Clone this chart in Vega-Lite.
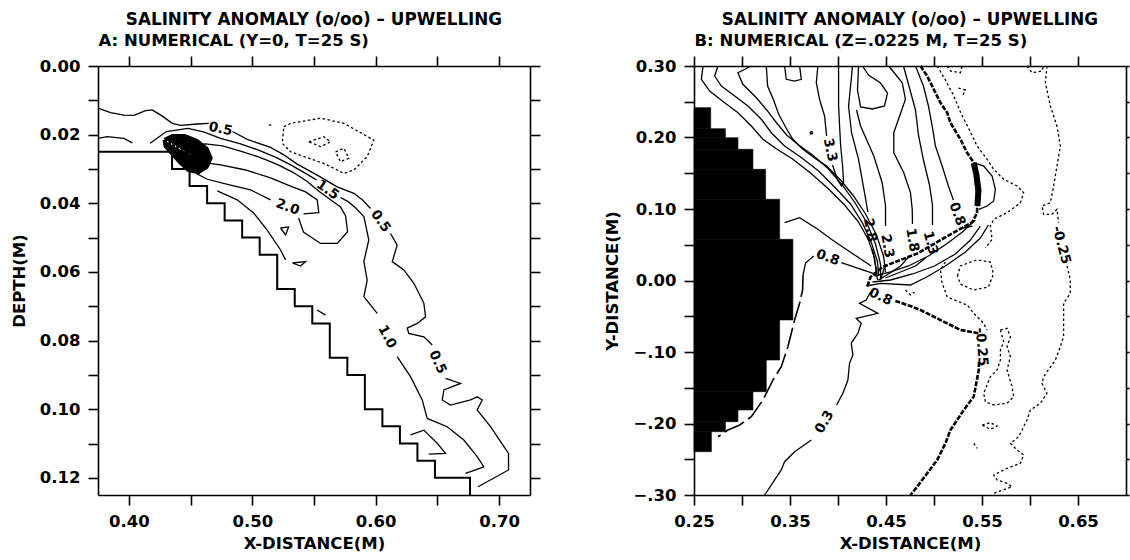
{
"$schema": "https://vega.github.io/schema/vega-lite/v6.json",
"background": "white",
"padding": {"left": 11, "top": 12, "right": 0, "bottom": 0},
"config": {
"font": "DejaVu Sans",
"view": {"stroke": null},
"axis": {"domainColor": "black", "domainWidth": 1.6, "tickColor": "black", "tickWidth": 1.6, "tickSize": 10, "labelFont": "DejaVu Sans", "labelFontWeight": "bold", "labelFontSize": 16.5, "labelColor": "black", "titleFont": "DejaVu Sans", "titleFontWeight": "bold", "titleFontSize": 16.5, "titleColor": "black", "grid": false, "labelPadding": 8, "labelOverlap": false, "labelFlush": false},
"title": {"font": "DejaVu Sans", "fontWeight": "bold", "fontSize": 16.8, "color": "black", "anchor": "middle", "offset": 3}
},
"datasets": {
"stepA": [{"x":0.375,"y":0.025},{"x":0.435,"y":0.025},{"x":0.435,"y":0.030},{"x":0.4492,"y":0.030},{"x":0.4492,"y":0.035},{"x":0.4634,"y":0.035},{"x":0.4634,"y":0.040},{"x":0.4776,"y":0.040},{"x":0.4776,"y":0.045},{"x":0.4918,"y":0.045},{"x":0.4918,"y":0.050},{"x":0.506,"y":0.050},{"x":0.506,"y":0.055},{"x":0.5202,"y":0.055},{"x":0.5202,"y":0.065},{"x":0.5344,"y":0.065},{"x":0.5344,"y":0.070},{"x":0.5486,"y":0.070},{"x":0.5486,"y":0.075},{"x":0.5628,"y":0.075},{"x":0.5628,"y":0.085},{"x":0.577,"y":0.085},{"x":0.577,"y":0.090},{"x":0.5912,"y":0.090},{"x":0.5912,"y":0.100},{"x":0.6054,"y":0.100},{"x":0.6054,"y":0.105},{"x":0.6196,"y":0.105},{"x":0.6196,"y":0.110},{"x":0.6338,"y":0.110},{"x":0.6338,"y":0.115},{"x":0.648,"y":0.115},{"x":0.648,"y":0.120},{"x":0.6764,"y":0.120},{"x":0.6764,"y":0.125}],
"solidA": [
{"s":"L0","x":0.375,"y":0.0211},{"s":"L0","x":0.3825,"y":0.0206},{"s":"L0","x":0.3960,"y":0.0211},{"s":"L0","x":0.4028,"y":0.0224},
{"s":"L1a","x":0.375,"y":0.0123},{"s":"L1a","x":0.3852,"y":0.0136},{"s":"L1a","x":0.3960,"y":0.0143},{"s":"L1a","x":0.4041,"y":0.0144},{"s":"L1a","x":0.4136,"y":0.0130},{"s":"L1a","x":0.4190,"y":0.0128},{"s":"L1a","x":0.4271,"y":0.0146},{"s":"L1a","x":0.4352,"y":0.0167},{"s":"L1a","x":0.4419,"y":0.0173},{"s":"L1a","x":0.4554,"y":0.0169},{"s":"L1a","x":0.4648,"y":0.0167},
{"s":"L1b","x":0.4840,"y":0.0191},{"s":"L1b","x":0.4959,"y":0.0214},{"s":"L1b","x":0.5148,"y":0.0237},{"s":"L1b","x":0.5256,"y":0.0259},{"s":"L1b","x":0.5364,"y":0.0286},{"s":"L1b","x":0.5526,"y":0.0318},{"s":"L1b","x":0.5688,"y":0.0352},{"s":"L1b","x":0.5823,"y":0.0371},{"s":"L1b","x":0.5891,"y":0.0390},{"s":"L1b","x":0.5958,"y":0.0415},
{"s":"L1c","x":0.6120,"y":0.0488},{"s":"L1c","x":0.6174,"y":0.0522},{"s":"L1c","x":0.6134,"y":0.0570},{"s":"L1c","x":0.6228,"y":0.0594},{"s":"L1c","x":0.6309,"y":0.0633},{"s":"L1c","x":0.6390,"y":0.0691},{"s":"L1c","x":0.6404,"y":0.0731},{"s":"L1c","x":0.6336,"y":0.0750},{"s":"L1c","x":0.6255,"y":0.0764},{"s":"L1c","x":0.6268,"y":0.0779},{"s":"L1c","x":0.6390,"y":0.0789},{"s":"L1c","x":0.6458,"y":0.0813},
{"s":"L1d","x":0.6566,"y":0.0910},{"s":"L1d","x":0.6687,"y":0.0925},{"s":"L1d","x":0.6552,"y":0.0944},{"s":"L1d","x":0.6539,"y":0.0973},{"s":"L1d","x":0.6606,"y":0.0988},{"s":"L1d","x":0.6768,"y":0.0973},{"s":"L1d","x":0.6822,"y":0.0964},{"s":"L1d","x":0.6863,"y":0.0973},{"s":"L1d","x":0.6822,"y":0.1002},{"s":"L1d","x":0.6930,"y":0.1051},{"s":"L1d","x":0.7076,"y":0.1129},{"s":"L1d","x":0.7076,"y":0.1177},{"s":"L1d","x":0.6829,"y":0.1226},
{"s":"L2a","x":0.4172,"y":0.0225},{"s":"L2a","x":0.4304,"y":0.0191},{"s":"L2a","x":0.4479,"y":0.0182},{"s":"L2a","x":0.4605,"y":0.0192},{"s":"L2a","x":0.4743,"y":0.0211},{"s":"L2a","x":0.4905,"y":0.0227},{"s":"L2a","x":0.5051,"y":0.0245},{"s":"L2a","x":0.5197,"y":0.0267},{"s":"L2a","x":0.5326,"y":0.0291},{"s":"L2a","x":0.5456,"y":0.0318},{"s":"L2a","x":0.5521,"y":0.0332},
{"s":"L2b","x":0.5715,"y":0.0383},{"s":"L2b","x":0.5780,"y":0.0396},{"s":"L2b","x":0.5837,"y":0.0414},{"s":"L2b","x":0.5904,"y":0.0439},{"s":"L2b","x":0.5944,"y":0.0507},{"s":"L2b","x":0.5904,"y":0.0570},{"s":"L2b","x":0.5931,"y":0.0624},{"s":"L2b","x":0.5904,"y":0.0672},{"s":"L2b","x":0.6012,"y":0.0721},
{"s":"L2c","x":0.6174,"y":0.0847},{"s":"L2c","x":0.6282,"y":0.0905},{"s":"L2c","x":0.6377,"y":0.0973},{"s":"L2c","x":0.6417,"y":0.1027},{"s":"L2c","x":0.6579,"y":0.1051},{"s":"L2c","x":0.6714,"y":0.1090},{"s":"L2c","x":0.6822,"y":0.1138},{"s":"L2c","x":0.6876,"y":0.1168},{"s":"L2c","x":0.6728,"y":0.1187},
{"s":"L3","x":0.4460,"y":0.0233},{"s":"L3","x":0.4622,"y":0.0227},{"s":"L3","x":0.4759,"y":0.0233},{"s":"L3","x":0.4905,"y":0.0248},{"s":"L3","x":0.5051,"y":0.0265},{"s":"L3","x":0.5197,"y":0.0286},{"s":"L3","x":0.5326,"y":0.0309},{"s":"L3","x":0.5440,"y":0.0335},{"s":"L3","x":0.5537,"y":0.0364},{"s":"L3","x":0.5634,"y":0.0390},{"s":"L3","x":0.5715,"y":0.0411},{"s":"L3","x":0.5756,"y":0.0437},{"s":"L3","x":0.5772,"y":0.0483},{"s":"L3","x":0.5688,"y":0.0517},{"s":"L3","x":0.5553,"y":0.0517},{"s":"L3","x":0.5415,"y":0.0484},{"s":"L3","x":0.5375,"y":0.0443},
{"s":"L4a","x":0.4541,"y":0.0312},{"s":"L4a","x":0.4636,"y":0.0330},{"s":"L4a","x":0.4824,"y":0.0347},{"s":"L4a","x":0.4986,"y":0.0361},{"s":"L4a","x":0.5148,"y":0.0390},
{"s":"L4b","x":0.5415,"y":0.0431},{"s":"L4b","x":0.5539,"y":0.0427},{"s":"L4b","x":0.5526,"y":0.0390},{"s":"L4b","x":0.5432,"y":0.0367},{"s":"L4b","x":0.5310,"y":0.0350},{"s":"L4b","x":0.5148,"y":0.0326},{"s":"L4b","x":0.4946,"y":0.0303},{"s":"L4b","x":0.4743,"y":0.0288},{"s":"L4b","x":0.4581,"y":0.0280},
{"s":"Lb","x":0.4716,"y":0.0364},{"s":"Lb","x":0.4878,"y":0.0390},{"s":"Lb","x":0.5013,"y":0.0429},{"s":"Lb","x":0.5121,"y":0.0478},{"s":"Lb","x":0.5229,"y":0.0536},{"s":"Lb","x":0.5270,"y":0.0565},
{"s":"e","x":0.5229,"y":0.0472},{"s":"e","x":0.5294,"y":0.0469},{"s":"e","x":0.5270,"y":0.0492},{"s":"e","x":0.5229,"y":0.0472},
{"s":"f","x":0.5325,"y":0.0574},{"s":"f","x":0.5432,"y":0.0570},{"s":"f","x":0.5391,"y":0.0583},{"s":"f","x":0.5325,"y":0.0574},
{"s":"i","x":0.6282,"y":0.1075},{"s":"i","x":0.6390,"y":0.1061},{"s":"i","x":0.6498,"y":0.1099},{"s":"i","x":0.6566,"y":0.1129},{"s":"i","x":0.6430,"y":0.1131},
{"s":"g","x":0.5526,"y":0.0711},{"s":"g","x":0.5593,"y":0.0726}
],
"blobA": [
{"s":"b1","x":0.4290,"y":0.0215},{"s":"b1","x":0.4354,"y":0.0204},{"s":"b1","x":0.4452,"y":0.0204},{"s":"b1","x":0.4549,"y":0.0218},{"s":"b1","x":0.4630,"y":0.0241},{"s":"b1","x":0.4662,"y":0.0268},{"s":"b1","x":0.4630,"y":0.0294},{"s":"b1","x":0.4565,"y":0.0309},{"s":"b1","x":0.4484,"y":0.0303},{"s":"b1","x":0.4419,"y":0.0282},{"s":"b1","x":0.4354,"y":0.0256},{"s":"b1","x":0.4298,"y":0.0233},{"s":"b1","x":0.4290,"y":0.0215},
{"s":"b2","x":0.4323,"y":0.0222},{"s":"b2","x":0.4376,"y":0.0212},{"s":"b2","x":0.4457,"y":0.0212},{"s":"b2","x":0.4538,"y":0.0225},{"s":"b2","x":0.4605,"y":0.0244},{"s":"b2","x":0.4632,"y":0.0266},{"s":"b2","x":0.4605,"y":0.0288},{"s":"b2","x":0.4551,"y":0.0300},{"s":"b2","x":0.4484,"y":0.0295},{"s":"b2","x":0.4430,"y":0.0278},{"s":"b2","x":0.4376,"y":0.0256},{"s":"b2","x":0.4329,"y":0.0237},{"s":"b2","x":0.4323,"y":0.0222},
{"s":"b3","x":0.4354,"y":0.0229},{"s":"b3","x":0.4397,"y":0.0221},{"s":"b3","x":0.4462,"y":0.0221},{"s":"b3","x":0.4527,"y":0.0231},{"s":"b3","x":0.4582,"y":0.0246},{"s":"b3","x":0.4603,"y":0.0264},{"s":"b3","x":0.4582,"y":0.0281},{"s":"b3","x":0.4538,"y":0.0291},{"s":"b3","x":0.4484,"y":0.0287},{"s":"b3","x":0.4441,"y":0.0274},{"s":"b3","x":0.4397,"y":0.0256},{"s":"b3","x":0.4359,"y":0.0240},{"s":"b3","x":0.4354,"y":0.0229},
{"s":"b4","x":0.4387,"y":0.0236},{"s":"b4","x":0.4419,"y":0.0230},{"s":"b4","x":0.4468,"y":0.0230},{"s":"b4","x":0.4516,"y":0.0237},{"s":"b4","x":0.4557,"y":0.0249},{"s":"b4","x":0.4573,"y":0.0262},{"s":"b4","x":0.4557,"y":0.0275},{"s":"b4","x":0.4525,"y":0.0282},{"s":"b4","x":0.4484,"y":0.0279},{"s":"b4","x":0.4452,"y":0.0269},{"s":"b4","x":0.4419,"y":0.0256},{"s":"b4","x":0.4391,"y":0.0244},{"s":"b4","x":0.4387,"y":0.0236},
{"s":"b5","x":0.4420,"y":0.0243},{"s":"b5","x":0.4441,"y":0.0239},{"s":"b5","x":0.4473,"y":0.0239},{"s":"b5","x":0.4505,"y":0.0244},{"s":"b5","x":0.4532,"y":0.0251},{"s":"b5","x":0.4543,"y":0.0260},{"s":"b5","x":0.4532,"y":0.0269},{"s":"b5","x":0.4511,"y":0.0273},{"s":"b5","x":0.4484,"y":0.0271},{"s":"b5","x":0.4463,"y":0.0265},{"s":"b5","x":0.4441,"y":0.0256},{"s":"b5","x":0.4423,"y":0.0248},{"s":"b5","x":0.4420,"y":0.0243},
{"s":"b6","x":0.4451,"y":0.0249},{"s":"b6","x":0.4462,"y":0.0247},{"s":"b6","x":0.4479,"y":0.0247},{"s":"b6","x":0.4495,"y":0.0250},{"s":"b6","x":0.4509,"y":0.0254},{"s":"b6","x":0.4514,"y":0.0258},{"s":"b6","x":0.4509,"y":0.0262},{"s":"b6","x":0.4498,"y":0.0265},{"s":"b6","x":0.4484,"y":0.0264},{"s":"b6","x":0.4473,"y":0.0260},{"s":"b6","x":0.4462,"y":0.0256},{"s":"b6","x":0.4452,"y":0.0252},{"s":"b6","x":0.4451,"y":0.0249}
],
"dotA": [
{"s":"D1","x":0.5256,"y":0.0177},{"s":"D1","x":0.5310,"y":0.0167},{"s":"D1","x":0.5553,"y":0.0152},{"s":"D1","x":0.5742,"y":0.0167},{"s":"D1","x":0.5985,"y":0.0216},{"s":"D1","x":0.5931,"y":0.0264},{"s":"D1","x":0.5823,"y":0.0303},{"s":"D1","x":0.5742,"y":0.0313},{"s":"D1","x":0.5688,"y":0.0303},{"s":"D1","x":0.5580,"y":0.0284},{"s":"D1","x":0.5310,"y":0.0250},{"s":"D1","x":0.5243,"y":0.0225},{"s":"D1","x":0.5256,"y":0.0177},
{"s":"D2","x":0.5458,"y":0.0221},{"s":"D2","x":0.5580,"y":0.0206},{"s":"D2","x":0.5634,"y":0.0221},{"s":"D2","x":0.5553,"y":0.0235},{"s":"D2","x":0.5458,"y":0.0221},
{"s":"D3","x":0.5675,"y":0.0250},{"s":"D3","x":0.5742,"y":0.0240},{"s":"D3","x":0.5782,"y":0.0269},{"s":"D3","x":0.5715,"y":0.0279},{"s":"D3","x":0.5675,"y":0.0250},
{"s":"D4","x":0.5134,"y":0.0172},{"s":"D4","x":0.5170,"y":0.0172}
],
"labA": [
{"x":0.4743,"y":0.0184,"t":"0.5","a":12},
{"x":0.6039,"y":0.0452,"t":"0.5","a":55},
{"x":0.6501,"y":0.0863,"t":"0.5","a":65},
{"x":0.5610,"y":0.0361,"t":"1.5","a":35},
{"x":0.5286,"y":0.0411,"t":"2.0","a":20},
{"x":0.6093,"y":0.0789,"t":"1.0","a":62}
],
"rectB": [{"xa":0.25,"xb":0.2674,"ya":0.2123,"yb":0.2417},{"xa":0.25,"xb":0.2827,"ya":0.1997,"yb":0.2123},{"xa":0.25,"xb":0.2958,"ya":0.1835,"yb":0.1997},{"xa":0.25,"xb":0.3114,"ya":0.1555,"yb":0.1835},{"xa":0.25,"xb":0.3246,"ya":0.1136,"yb":0.1555},{"xa":0.25,"xb":0.3392,"ya":0.0576,"yb":0.1136},{"xa":0.25,"xb":0.353,"ya":-0.0552,"yb":0.0576},{"xa":0.25,"xb":0.3392,"ya":-0.1112,"yb":-0.0552},{"xa":0.25,"xb":0.3253,"ya":-0.1555,"yb":-0.1112},{"xa":0.25,"xb":0.3114,"ya":-0.1811,"yb":-0.1555},{"xa":0.25,"xb":0.2958,"ya":-0.1975,"yb":-0.1811},{"xa":0.25,"xb":0.2827,"ya":-0.2115,"yb":-0.1975},{"xa":0.25,"xb":0.2681,"ya":-0.2394,"yb":-0.2115}],
"solidB": [
{"s":"F1","x":0.2594,"y":0.300},{"s":"F1","x":0.2577,"y":0.2814},{"s":"F1","x":0.2663,"y":0.2650},{"s":"F1","x":0.2819,"y":0.2487},{"s":"F1","x":0.2958,"y":0.2347},{"s":"F1","x":0.3097,"y":0.2161},{"s":"F1","x":0.3218,"y":0.1975},{"s":"F1","x":0.3361,"y":0.1839},{"s":"F1","x":0.3527,"y":0.1699},{"s":"F1","x":0.3714,"y":0.1504},{"s":"F1","x":0.3902,"y":0.1280},{"s":"F1","x":0.4068,"y":0.1056},{"s":"F1","x":0.4214,"y":0.0818},{"s":"F1","x":0.4318,"y":0.0566},{"s":"F1","x":0.4380,"y":0.0315},{"s":"F1","x":0.4401,"y":0.0119},
{"s":"F2","x":0.2750,"y":0.300},{"s":"F2","x":0.2715,"y":0.2860},{"s":"F2","x":0.2785,"y":0.2720},{"s":"F2","x":0.2924,"y":0.2580},{"s":"F2","x":0.3062,"y":0.2441},{"s":"F2","x":0.3201,"y":0.2255},{"s":"F2","x":0.3305,"y":0.2067},{"s":"F2","x":0.3444,"y":0.1881},{"s":"F2","x":0.3610,"y":0.1727},{"s":"F2","x":0.3798,"y":0.1531},{"s":"F2","x":0.3964,"y":0.1308},{"s":"F2","x":0.4131,"y":0.1070},{"s":"F2","x":0.4255,"y":0.0804},{"s":"F2","x":0.4349,"y":0.0524},{"s":"F2","x":0.4412,"y":0.0259},{"s":"F2","x":0.4422,"y":0.0063},
{"s":"F3","x":0.3097,"y":0.300},{"s":"F3","x":0.2958,"y":0.2906},{"s":"F3","x":0.3007,"y":0.2748},{"s":"F3","x":0.3142,"y":0.2566},{"s":"F3","x":0.3257,"y":0.2385},{"s":"F3","x":0.3361,"y":0.2203},{"s":"F3","x":0.3465,"y":0.2035},{"s":"F3","x":0.3590,"y":0.1895},{"s":"F3","x":0.3735,"y":0.1755},{"s":"F3","x":0.3891,"y":0.1573},{"s":"F3","x":0.4037,"y":0.1350},{"s":"F3","x":0.4172,"y":0.1098},{"s":"F3","x":0.4297,"y":0.0818},{"s":"F3","x":0.4391,"y":0.0510},{"s":"F3","x":0.4443,"y":0.0231},{"s":"F3","x":0.4443,"y":0.0035},
{"s":"F4","x":0.3253,"y":0.300},{"s":"F4","x":0.3267,"y":0.2720},{"s":"F4","x":0.3329,"y":0.2524},{"s":"F4","x":0.3381,"y":0.2329},{"s":"F4","x":0.3454,"y":0.2147},{"s":"F4","x":0.3527,"y":0.1979},{"s":"F4","x":0.3631,"y":0.1839},{"s":"F4","x":0.3756,"y":0.1713},{"s":"F4","x":0.3881,"y":0.1601},{"s":"F4","x":0.4027,"y":0.1406},{"s":"F4","x":0.4162,"y":0.1182},{"s":"F4","x":0.4287,"y":0.0930},{"s":"F4","x":0.4401,"y":0.0636},{"s":"F4","x":0.4474,"y":0.0343},{"s":"F4","x":0.4495,"y":0.0119},
{"s":"LP","x":0.3444,"y":0.300},{"s":"LP","x":0.3461,"y":0.2814},{"s":"LP","x":0.3548,"y":0.2790},{"s":"LP","x":0.3618,"y":0.2814},{"s":"LP","x":0.3600,"y":0.300},
{"s":"T33a","x":0.3790,"y":0.300},{"s":"T33a","x":0.3774,"y":0.2766},{"s":"T33a","x":0.3808,"y":0.2534},{"s":"T33a","x":0.3860,"y":0.2301},{"s":"T33a","x":0.3881,"y":0.2021},
{"s":"T33b","x":0.3943,"y":0.1615},{"s":"T33b","x":0.3995,"y":0.1406},{"s":"T33b","x":0.4037,"y":0.1322},{"s":"T33b","x":0.4058,"y":0.1378},{"s":"T33b","x":0.4047,"y":0.1615},{"s":"T33b","x":0.4027,"y":0.1895},{"s":"T33b","x":0.4016,"y":0.2175},{"s":"T33b","x":0.4006,"y":0.2455},{"s":"T33b","x":0.4006,"y":0.2720},{"s":"T33b","x":0.4006,"y":0.300},
{"s":"DOT","x":0.3709,"y":0.2077},{"s":"DOT","x":0.3730,"y":0.2084},{"s":"DOT","x":0.3735,"y":0.2056},{"s":"DOT","x":0.3714,"y":0.2049},{"s":"DOT","x":0.3709,"y":0.2077},
{"s":"H","x":0.4214,"y":0.300},{"s":"H","x":0.4203,"y":0.2664},{"s":"H","x":0.4235,"y":0.2427},{"s":"H","x":0.4360,"y":0.2399},{"s":"H","x":0.4484,"y":0.2441},{"s":"H","x":0.4516,"y":0.2622},{"s":"H","x":0.4443,"y":0.2762},{"s":"H","x":0.4318,"y":0.2874},{"s":"H","x":0.4255,"y":0.300},
{"s":"L28a","x":0.4151,"y":0.300},{"s":"L28a","x":0.4131,"y":0.2720},{"s":"L28a","x":0.4110,"y":0.2441},{"s":"L28a","x":0.4141,"y":0.2067},{"s":"L28a","x":0.4214,"y":0.1695},{"s":"L28a","x":0.4276,"y":0.1228},{"s":"L28a","x":0.4311,"y":0.0958},
{"s":"L28b","x":0.4360,"y":0.0440},{"s":"L28b","x":0.4391,"y":0.0203},{"s":"L28b","x":0.4412,"y":0.0007},
{"s":"L23a","x":0.4193,"y":0.2385},{"s":"L23a","x":0.4235,"y":0.2161},{"s":"L23a","x":0.4373,"y":0.1741},{"s":"L23a","x":0.4460,"y":0.1368},{"s":"L23a","x":0.4495,"y":0.1042},{"s":"L23a","x":0.4495,"y":0.0762},
{"s":"L23b","x":0.4495,"y":0.0231},{"s":"L23b","x":0.4443,"y":0.0007},
{"s":"L18a","x":0.4529,"y":0.300},{"s":"L18a","x":0.4669,"y":0.2766},{"s":"L18a","x":0.4703,"y":0.2534},{"s":"L18a","x":0.4581,"y":0.2067},{"s":"L18a","x":0.4581,"y":0.1787},{"s":"L18a","x":0.4685,"y":0.1508},{"s":"L18a","x":0.4755,"y":0.1228},{"s":"L18a","x":0.4773,"y":0.0996},{"s":"L18a","x":0.4776,"y":0.0790},
{"s":"L18b","x":0.4745,"y":0.0343},{"s":"L18b","x":0.4651,"y":0.0203},{"s":"L18b","x":0.4526,"y":0.0091},{"s":"L18b","x":0.4422,"y":0.0007},
{"s":"L13a","x":0.4682,"y":0.300},{"s":"L13a","x":0.4745,"y":0.2692},{"s":"L13a","x":0.4807,"y":0.2385},{"s":"L13a","x":0.4838,"y":0.2035},{"s":"L13a","x":0.4890,"y":0.1685},{"s":"L13a","x":0.4953,"y":0.1336},{"s":"L13a","x":0.4984,"y":0.1056},{"s":"L13a","x":0.4984,"y":0.0776},
{"s":"L13b","x":0.4911,"y":0.0315},{"s":"L13b","x":0.4807,"y":0.0203},{"s":"L13b","x":0.4651,"y":0.0119},{"s":"L13b","x":0.4495,"y":0.0035},
{"s":"L08Ra","x":0.4807,"y":0.300},{"s":"L08Ra","x":0.4890,"y":0.2720},{"s":"L08Ra","x":0.4942,"y":0.2441},{"s":"L08Ra","x":0.4981,"y":0.2161},{"s":"L08Ra","x":0.5015,"y":0.1881},{"s":"L08Ra","x":0.5085,"y":0.1601},{"s":"L08Ra","x":0.5150,"y":0.1322},{"s":"L08Ra","x":0.5202,"y":0.1126},
{"s":"L08Rb","x":0.5296,"y":0.0734},{"s":"L08Rb","x":0.5400,"y":0.0762},
{"s":"SL","x":0.5414,"y":0.1648},{"s":"SL","x":0.5518,"y":0.1601},{"s":"SL","x":0.5605,"y":0.1462},{"s":"SL","x":0.5639,"y":0.1276},{"s":"SL","x":0.5622,"y":0.1112},{"s":"SL","x":0.5553,"y":0.1042},{"s":"SL","x":0.5466,"y":0.0996},
{"s":"R1","x":0.4380,"y":0.0063},{"s":"R1","x":0.4547,"y":0.0119},{"s":"R1","x":0.4734,"y":0.0203},{"s":"R1","x":0.4942,"y":0.0343},{"s":"R1","x":0.5130,"y":0.0510},{"s":"R1","x":0.5296,"y":0.0678},{"s":"R1","x":0.5431,"y":0.0846},
{"s":"R2","x":0.4360,"y":-0.0021},{"s":"R2","x":0.4547,"y":0.0007},{"s":"R2","x":0.4776,"y":0.0091},{"s":"R2","x":0.5005,"y":0.0203},{"s":"R2","x":0.5223,"y":0.0371},{"s":"R2","x":0.5379,"y":0.0566},{"s":"R2","x":0.5483,"y":0.0762},
{"s":"R3","x":0.4297,"y":-0.0077},{"s":"R3","x":0.4443,"y":-0.0039},{"s":"R3","x":0.4755,"y":-0.0063},{"s":"R3","x":0.4929,"y":0.0053},{"s":"R3","x":0.5119,"y":0.0203},{"s":"R3","x":0.5327,"y":0.0399},{"s":"R3","x":0.5483,"y":0.0594},{"s":"R3","x":0.5567,"y":0.0776},
{"s":"L08a","x":0.4398,"y":0.0087},{"s":"L08a","x":0.4242,"y":0.0157},{"s":"L08a","x":0.4034,"y":0.0249},
{"s":"L08b","x":0.3746,"y":0.0343},{"s":"L08b","x":0.3662,"y":0.0245},{"s":"L08b","x":0.3636,"y":0.0077},
{"s":"LLOW","x":0.3444,"y":0.0808},{"s":"LLOW","x":0.3600,"y":0.0878},{"s":"LLOW","x":0.3790,"y":0.0716},{"s":"LLOW","x":0.3930,"y":0.0576},{"s":"LLOW","x":0.4138,"y":0.0389},{"s":"LLOW","x":0.4346,"y":0.0203},
{"s":"L03a","x":0.3236,"y":-0.300},{"s":"L03a","x":0.3409,"y":-0.2650},{"s":"L03a","x":0.3444,"y":-0.2534},{"s":"L03a","x":0.3548,"y":-0.2394},{"s":"L03a","x":0.3722,"y":-0.2231},
{"s":"L03b","x":0.3985,"y":-0.1741},{"s":"L03b","x":0.4051,"y":-0.1578},{"s":"L03b","x":0.4103,"y":-0.1392},{"s":"L03b","x":0.4120,"y":-0.1158},{"s":"L03b","x":0.4155,"y":-0.1042},{"s":"L03b","x":0.4138,"y":-0.0878},{"s":"L03b","x":0.4207,"y":-0.0738},{"s":"L03b","x":0.4242,"y":-0.0599},{"s":"L03b","x":0.4190,"y":-0.0529},{"s":"L03b","x":0.4415,"y":-0.0459},{"s":"L03b","x":0.4224,"y":-0.0319},{"s":"L03b","x":0.4294,"y":-0.0273},{"s":"L03b","x":0.4339,"y":-0.0161}
],
"thickB": [
{"s":"TF1","x":0.4859,"y":0.300},{"s":"TF1","x":0.4929,"y":0.2860},{"s":"TF1","x":0.4997,"y":0.2674},{"s":"TF1","x":0.5067,"y":0.2487},{"s":"TF1","x":0.5137,"y":0.2347},{"s":"TF1","x":0.5171,"y":0.2207},{"s":"TF1","x":0.5275,"y":0.1975},{"s":"TF1","x":0.5345,"y":0.1787},{"s":"TF1","x":0.5414,"y":0.1648},{"s":"TF1","x":0.5431,"y":0.1415},{"s":"TF1","x":0.5449,"y":0.1228},{"s":"TF1","x":0.5449,"y":0.0948},{"s":"TF1","x":0.5400,"y":0.0818},{"s":"TF1","x":0.5254,"y":0.0706},{"s":"TF1","x":0.5067,"y":0.0566},{"s":"TF1","x":0.4838,"y":0.0385},{"s":"TF1","x":0.4651,"y":0.0287},{"s":"TF1","x":0.4464,"y":0.0189},{"s":"TF1","x":0.4339,"y":0.0049},{"s":"TF1","x":0.4304,"y":-0.0087},
{"s":"TF2","x":0.4598,"y":-0.0287},{"s":"TF2","x":0.4755,"y":-0.0357},{"s":"TF2","x":0.4859,"y":-0.0413},{"s":"TF2","x":0.5067,"y":-0.0552},{"s":"TF2","x":0.5275,"y":-0.0692},{"s":"TF2","x":0.5466,"y":-0.0738},
{"s":"TF3","x":0.5469,"y":-0.1140},{"s":"TF3","x":0.5466,"y":-0.1252},{"s":"TF3","x":0.5414,"y":-0.1625},{"s":"TF3","x":0.5310,"y":-0.1811},{"s":"TF3","x":0.5241,"y":-0.1951},{"s":"TF3","x":0.5171,"y":-0.2091},{"s":"TF3","x":0.5119,"y":-0.2277},{"s":"TF3","x":0.5033,"y":-0.2510},{"s":"TF3","x":0.4929,"y":-0.2697},{"s":"TF3","x":0.4825,"y":-0.2884},{"s":"TF3","x":0.4755,"y":-0.300}
],
"blobB": [{"s":"TB","x":0.5414,"y":0.1643},{"s":"TB","x":0.5442,"y":0.1476},{"s":"TB","x":0.5463,"y":0.1266},{"s":"TB","x":0.5452,"y":0.1042}],
"dashB": [{"s":"L08c","x":0.3636,"y":0.0077},{"s":"L08c","x":0.3631,"y":-0.0133},{"s":"L08c","x":0.3600,"y":-0.0319},{"s":"L08c","x":0.3548,"y":-0.0552},{"s":"L08c","x":0.3478,"y":-0.0926},{"s":"L08c","x":0.3409,"y":-0.1206},{"s":"L08c","x":0.3322,"y":-0.1392},{"s":"L08c","x":0.3218,"y":-0.1671},{"s":"L08c","x":0.3097,"y":-0.1905},{"s":"L08c","x":0.2976,"y":-0.2021},{"s":"L08c","x":0.2854,"y":-0.2091},{"s":"L08c","x":0.2750,"y":-0.2185}],
"dotB": [
{"s":"t1","x":0.5137,"y":0.300},{"s":"t1","x":0.5171,"y":0.2930},{"s":"t1","x":0.5275,"y":0.2906},{"s":"t1","x":0.5293,"y":0.300},
{"s":"t2","x":0.5254,"y":0.2692},{"s":"t2","x":0.5327,"y":0.2664},{"s":"t2","x":0.5296,"y":0.2580},
{"s":"t3","x":0.5969,"y":0.300},{"s":"t3","x":0.6021,"y":0.2906},{"s":"t3","x":0.6125,"y":0.2930},{"s":"t3","x":0.6142,"y":0.300},
{"s":"DB1","x":0.5033,"y":0.300},{"s":"DB1","x":0.5119,"y":0.2804},{"s":"DB1","x":0.5202,"y":0.2594},{"s":"DB1","x":0.5275,"y":0.2357},{"s":"DB1","x":0.5359,"y":0.2133},{"s":"DB1","x":0.5449,"y":0.1881},{"s":"DB1","x":0.5553,"y":0.1695},{"s":"DB1","x":0.5622,"y":0.1555},{"s":"DB1","x":0.5726,"y":0.1415},{"s":"DB1","x":0.5865,"y":0.1322},{"s":"DB1","x":0.5934,"y":0.1228},{"s":"DB1","x":0.5900,"y":0.1088},{"s":"DB1","x":0.5761,"y":0.0948},{"s":"DB1","x":0.5622,"y":0.0856},{"s":"DB1","x":0.5587,"y":0.0762},{"s":"DB1","x":0.5605,"y":0.0576},{"s":"DB1","x":0.5535,"y":0.0455},
{"s":"DB1b","x":0.5119,"y":0.0259},{"s":"DB1b","x":0.5067,"y":0.0147},{"s":"DB1b","x":0.5085,"y":-0.0039},{"s":"DB1b","x":0.5137,"y":-0.0227},{"s":"DB1b","x":0.5241,"y":-0.0287},{"s":"DB1b","x":0.5345,"y":-0.0343},{"s":"DB1b","x":0.5414,"y":-0.0459},{"s":"DB1b","x":0.5518,"y":-0.0599},{"s":"DB1b","x":0.5553,"y":-0.0692},
{"s":"DB2","x":0.5244,"y":0.0063},{"s":"DB2","x":0.5275,"y":0.0203},{"s":"DB2","x":0.5442,"y":0.0287},{"s":"DB2","x":0.5587,"y":0.0259},{"s":"DB2","x":0.5619,"y":0.0091},{"s":"DB2","x":0.5567,"y":-0.0091},{"s":"DB2","x":0.5411,"y":-0.0133},{"s":"DB2","x":0.5275,"y":-0.0049},{"s":"DB2","x":0.5244,"y":0.0063},
{"s":"DB3","x":0.5692,"y":-0.0692},{"s":"DB3","x":0.5761,"y":-0.0669},{"s":"DB3","x":0.5796,"y":-0.0786},{"s":"DB3","x":0.5761,"y":-0.0926},{"s":"DB3","x":0.5796,"y":-0.1066},{"s":"DB3","x":0.5761,"y":-0.1252},{"s":"DB3","x":0.5813,"y":-0.1485},{"s":"DB3","x":0.5830,"y":-0.1625},{"s":"DB3","x":0.5761,"y":-0.1717},{"s":"DB3","x":0.5622,"y":-0.1741},{"s":"DB3","x":0.5535,"y":-0.1695},{"s":"DB3","x":0.5518,"y":-0.1578},{"s":"DB3","x":0.5587,"y":-0.1345},{"s":"DB3","x":0.5657,"y":-0.1252},{"s":"DB3","x":0.5692,"y":-0.1112},{"s":"DB3","x":0.5692,"y":-0.0972},{"s":"DB3","x":0.5726,"y":-0.0856},{"s":"DB3","x":0.5692,"y":-0.0692},
{"s":"DB4","x":0.5501,"y":-0.2021},{"s":"DB4","x":0.5587,"y":-0.1989},{"s":"DB4","x":0.5657,"y":-0.2035},{"s":"DB4","x":0.5587,"y":-0.2081},{"s":"DB4","x":0.5501,"y":-0.2021},
{"s":"DB5","x":0.5414,"y":-0.2277},{"s":"DB5","x":0.5449,"y":-0.2347},
{"s":"DB6a","x":0.6177,"y":0.300},{"s":"DB6a","x":0.6160,"y":0.2766},{"s":"DB6a","x":0.6212,"y":0.2441},{"s":"DB6a","x":0.6281,"y":0.2161},{"s":"DB6a","x":0.6316,"y":0.1881},{"s":"DB6a","x":0.6281,"y":0.1601},{"s":"DB6a","x":0.6246,"y":0.1322},{"s":"DB6a","x":0.6212,"y":0.1088},{"s":"DB6a","x":0.6125,"y":0.1042},{"s":"DB6a","x":0.6142,"y":0.0926},{"s":"DB6a","x":0.6229,"y":0.0926},{"s":"DB6a","x":0.6281,"y":0.0996},{"s":"DB6a","x":0.6298,"y":0.0808},
{"s":"DB6b","x":0.6386,"y":0.0203},{"s":"DB6b","x":0.6420,"y":0.0007},{"s":"DB6b","x":0.6420,"y":-0.0179},{"s":"DB6b","x":0.6350,"y":-0.0319},{"s":"DB6b","x":0.6350,"y":-0.0786},{"s":"DB6b","x":0.6316,"y":-0.0926},{"s":"DB6b","x":0.6264,"y":-0.1112},{"s":"DB6b","x":0.6142,"y":-0.1345},{"s":"DB6b","x":0.6125,"y":-0.1438},{"s":"DB6b","x":0.6177,"y":-0.1578},{"s":"DB6b","x":0.6108,"y":-0.1717},{"s":"DB6b","x":0.6004,"y":-0.1811},{"s":"DB6b","x":0.5969,"y":-0.1951},{"s":"DB6b","x":0.5934,"y":-0.2045},{"s":"DB6b","x":0.5882,"y":-0.2185},{"s":"DB6b","x":0.5796,"y":-0.2277},{"s":"DB6b","x":0.5865,"y":-0.2371},{"s":"DB6b","x":0.5934,"y":-0.2440},{"s":"DB6b","x":0.5900,"y":-0.2557},{"s":"DB6b","x":0.5761,"y":-0.2627},{"s":"DB6b","x":0.5622,"y":-0.2720},{"s":"DB6b","x":0.5657,"y":-0.2790},{"s":"DB6b","x":0.5761,"y":-0.2836},{"s":"DB6b","x":0.5813,"y":-0.2884},{"s":"DB6b","x":0.5622,"y":-0.2976},
{"s":"DB7","x":0.4703,"y":-0.0133},{"s":"DB7","x":0.4755,"y":-0.0203},{"s":"DB7","x":0.4797,"y":-0.0161}
],
"labB": [
{"x":0.3917,"y":0.1825,"t":"3.3","a":78},
{"x":0.4334,"y":0.0706,"t":"2.8","a":80},
{"x":0.4513,"y":0.0482,"t":"2.3","a":80},
{"x":0.4773,"y":0.0566,"t":"1.8","a":80},
{"x":0.4963,"y":0.0524,"t":"1.3","a":75},
{"x":0.5241,"y":0.0930,"t":"0.8","a":70},
{"x":0.3894,"y":0.0319,"t":"0.8","a":20},
{"x":0.4443,"y":-0.0227,"t":"0.8","a":25},
{"x":0.3860,"y":-0.1979,"t":"0.3","a":-60},
{"x":0.5494,"y":-0.0930,"t":"-0.25","a":85},
{"x":0.6326,"y":0.0497,"t":"-0.25","a":75}
]
},
"bounds": "flush",
"spacing": 164,
"hconcat": [
{
"width": 432, "height": 429,
"title": {"text": "SALINITY ANOMALY (o/oo) – UPWELLING"},
"resolve": {"axis": {"x": "independent", "y": "independent"}},
"layer": [
{"data": {"name": "stepA"}, "mark": {"type": "line", "color": "black", "strokeWidth": 2},
"encoding": {
"x": {"field": "x", "type": "quantitative", "scale": {"domain": [0.375, 0.725], "nice": false, "zero": false},
"axis": {"orient": "bottom", "values": [0.4,0.45,0.5,0.55,0.6,0.65,0.7], "labelExpr": "abs(round(datum.value*100))%10==0 ? format(datum.value,'.2f') : ''", "title": "X-DISTANCE(M)", "titlePadding": 6}},
"y": {"field": "y", "type": "quantitative", "scale": {"domain": [0, 0.125], "reverse": true, "nice": false, "zero": false},
"axis": {"orient": "left", "values": [0,0.01,0.02,0.03,0.04,0.05,0.06,0.07,0.08,0.09,0.1,0.11,0.12], "labelExpr": "round(datum.value*100)%2==0 ? format(datum.value,'.2f') : ''", "title": "DEPTH(M)", "titlePadding": 12}},
"order": {"value": null}}},
{"data": {"name": "solidA"}, "mark": {"type": "line", "color": "black", "strokeWidth": 1.3},
"encoding": {
"x": {"field": "x", "type": "quantitative", "scale": {"domain": [0.375, 0.725], "nice": false, "zero": false},
"axis": {"orient": "top", "values": [0.4,0.45,0.5,0.55,0.6,0.65,0.7], "labels": false, "title": "A: NUMERICAL (Y=0, T=25 S)", "titleAnchor": "start", "titleAlign": "left", "titlePadding": 7}},
"y": {"field": "y", "type": "quantitative", "scale": {"domain": [0, 0.125], "reverse": true, "nice": false, "zero": false},
"axis": {"orient": "right", "values": [0,0.01,0.02,0.03,0.04,0.05,0.06,0.07,0.08,0.09,0.1,0.11,0.12], "labels": false, "title": null}},
"detail": {"field": "s", "type": "nominal"},
"order": {"value": null}}},
{"data": {"name": "blobA"}, "mark": {"type": "line", "color": "black", "strokeWidth": 4.2},
"encoding": {
"x": {"field": "x", "type": "quantitative", "scale": {"domain": [0.375, 0.725], "nice": false, "zero": false}, "axis": null},
"y": {"field": "y", "type": "quantitative", "scale": {"domain": [0, 0.125], "reverse": true, "nice": false, "zero": false}, "axis": null},
"detail": {"field": "s", "type": "nominal"},
"order": {"value": null}}},
{"data": {"name": "dotA"}, "mark": {"type": "line", "color": "black", "strokeWidth": 1.3, "strokeDash": [2.5, 2.5]},
"encoding": {
"x": {"field": "x", "type": "quantitative", "scale": {"domain": [0.375, 0.725], "nice": false, "zero": false}, "axis": null},
"y": {"field": "y", "type": "quantitative", "scale": {"domain": [0, 0.125], "reverse": true, "nice": false, "zero": false}, "axis": null},
"detail": {"field": "s", "type": "nominal"},
"order": {"value": null}}},
{"data": {"name": "labA"}, "mark": {"type": "text", "font": "DejaVu Sans", "fontWeight": "bold", "fontSize": 13.5, "color": "black", "align": "center", "baseline": "middle"},
"encoding": {
"x": {"field": "x", "type": "quantitative", "scale": {"domain": [0.375, 0.725], "nice": false, "zero": false}, "axis": null},
"y": {"field": "y", "type": "quantitative", "scale": {"domain": [0, 0.125], "reverse": true, "nice": false, "zero": false}, "axis": null},
"text": {"field": "t"},
"angle": {"field": "a", "type": "quantitative", "scale": null}}}
]
},
{
"width": 432, "height": 429,
"title": {"text": "SALINITY ANOMALY (o/oo) – UPWELLING"},
"resolve": {"axis": {"x": "independent", "y": "independent"}},
"layer": [
{"data": {"name": "rectB"}, "mark": {"type": "rect", "color": "black", "stroke": "black", "strokeWidth": 0.6},
"encoding": {
"x": {"field": "xa", "type": "quantitative", "scale": {"domain": [0.25, 0.70], "nice": false, "zero": false},
"axis": {"orient": "bottom", "values": [0.25,0.3,0.35,0.4,0.45,0.5,0.55,0.6,0.65], "labelExpr": "abs(round(datum.value*100))%10==5 ? format(datum.value,'.2f') : ''", "title": "X-DISTANCE(M)", "titlePadding": 6}},
"x2": {"field": "xb"},
"y": {"field": "ya", "type": "quantitative", "scale": {"domain": [-0.3, 0.3], "nice": false, "zero": false},
"axis": {"orient": "left", "values": [-0.3,-0.25,-0.2,-0.15,-0.1,-0.05,0,0.05,0.1,0.15,0.2,0.25,0.3], "labelExpr": "abs(round(datum.value*100))%10!=0 ? '' : (datum.value < -0.001 ? '−' + substring(format(-datum.value,'.2f'),1) : format(abs(datum.value),'.2f'))", "title": "Y-DISTANCE(M)", "titlePadding": 12}},
"y2": {"field": "yb"}}},
{"data": {"name": "solidB"}, "mark": {"type": "line", "color": "black", "strokeWidth": 1.3},
"encoding": {
"x": {"field": "x", "type": "quantitative", "scale": {"domain": [0.25, 0.70], "nice": false, "zero": false},
"axis": {"orient": "top", "values": [0.25,0.3,0.35,0.4,0.45,0.5,0.55,0.6,0.65], "labels": false, "title": "B: NUMERICAL (Z=.0225 M, T=25 S)", "titleAnchor": "start", "titleAlign": "left", "titlePadding": 7}},
"y": {"field": "y", "type": "quantitative", "scale": {"domain": [-0.3, 0.3], "nice": false, "zero": false},
"axis": {"orient": "right", "values": [-0.3,-0.25,-0.2,-0.15,-0.1,-0.05,0,0.05,0.1,0.15,0.2,0.25,0.3], "labels": false, "title": null, "tickSize": 3}},
"detail": {"field": "s", "type": "nominal"},
"order": {"value": null}}},
{"data": {"name": "thickB"}, "mark": {"type": "line", "color": "black", "strokeWidth": 2.6, "strokeDash": [5, 1.5]},
"encoding": {
"x": {"field": "x", "type": "quantitative", "scale": {"domain": [0.25, 0.70], "nice": false, "zero": false}, "axis": null},
"y": {"field": "y", "type": "quantitative", "scale": {"domain": [-0.3, 0.3], "nice": false, "zero": false}, "axis": null},
"detail": {"field": "s", "type": "nominal"},
"order": {"value": null}}},
{"data": {"name": "blobB"}, "mark": {"type": "line", "color": "black", "strokeWidth": 6},
"encoding": {
"x": {"field": "x", "type": "quantitative", "scale": {"domain": [0.25, 0.70], "nice": false, "zero": false}, "axis": null},
"y": {"field": "y", "type": "quantitative", "scale": {"domain": [-0.3, 0.3], "nice": false, "zero": false}, "axis": null},
"detail": {"field": "s", "type": "nominal"},
"order": {"value": null}}},
{"data": {"name": "dashB"}, "mark": {"type": "line", "color": "black", "strokeWidth": 1.6, "strokeDash": [22, 5]},
"encoding": {
"x": {"field": "x", "type": "quantitative", "scale": {"domain": [0.25, 0.70], "nice": false, "zero": false}, "axis": null},
"y": {"field": "y", "type": "quantitative", "scale": {"domain": [-0.3, 0.3], "nice": false, "zero": false}, "axis": null},
"detail": {"field": "s", "type": "nominal"},
"order": {"value": null}}},
{"data": {"name": "dotB"}, "mark": {"type": "line", "color": "black", "strokeWidth": 1.3, "strokeDash": [2.5, 2.5]},
"encoding": {
"x": {"field": "x", "type": "quantitative", "scale": {"domain": [0.25, 0.70], "nice": false, "zero": false}, "axis": null},
"y": {"field": "y", "type": "quantitative", "scale": {"domain": [-0.3, 0.3], "nice": false, "zero": false}, "axis": null},
"detail": {"field": "s", "type": "nominal"},
"order": {"value": null}}},
{"data": {"name": "labB"}, "mark": {"type": "text", "font": "DejaVu Sans", "fontWeight": "bold", "fontSize": 13.5, "color": "black", "align": "center", "baseline": "middle"},
"encoding": {
"x": {"field": "x", "type": "quantitative", "scale": {"domain": [0.25, 0.70], "nice": false, "zero": false}, "axis": null},
"y": {"field": "y", "type": "quantitative", "scale": {"domain": [-0.3, 0.3], "nice": false, "zero": false}, "axis": null},
"text": {"field": "t"},
"angle": {"field": "a", "type": "quantitative", "scale": null}}}
]
}
]
}
